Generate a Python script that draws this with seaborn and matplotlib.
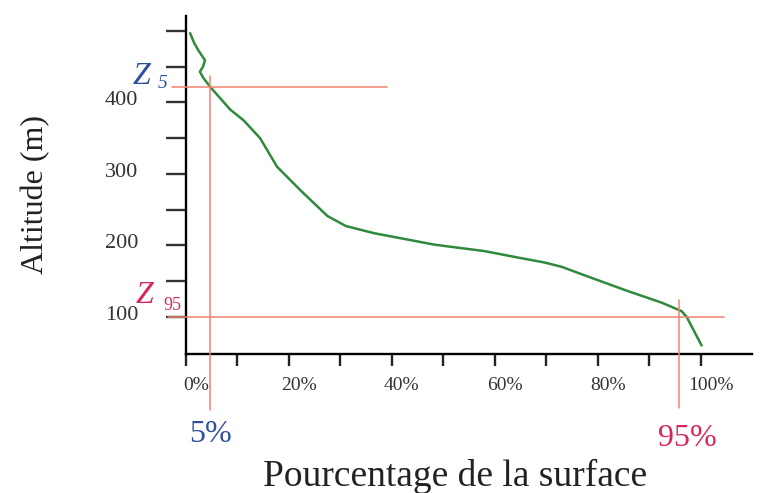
import matplotlib
matplotlib.use("Agg")
import matplotlib.pyplot as plt
from matplotlib.transforms import ScaledTranslation
import seaborn as sns
import pandas as pd

# ---- data ----
surface_pct = [0.8, 1.6, 2.4, 3.7, 3.3, 2.7, 3.4, 4.8, 8.6, 11.2, 14.4, 17.7,
               22.4, 27.5, 31.1, 36.6, 48.3, 58.0, 64.5, 69.7, 73.0, 79.4,
               85.9, 92.4, 96.3, 97.3, 98.6, 100.2]
altitude_m = [497, 483, 473, 459, 450, 443, 434, 421, 390, 375, 350, 310,
              276, 241, 227, 217, 201, 192, 183, 176, 170, 153,
              136, 120, 108, 100, 82, 60]
z5_alt = 422
z95_alt = 100
p5_pos = 4.6
p95_pos = 95.9
p5_label = "5%"
p95_label = "95%"
x_ticks = [0, 10, 20, 30, 40, 50, 60, 70, 80, 90, 100]
x_ticklabels = ["0%", "", "20%", "", "40%", "", "60%", "", "80%", "", "100%"]
y_ticks = [100, 150, 200, 250, 300, 350, 400, 450, 500]
y_ticklabels = ["100", "", "200", "", "300", "", "400", "", ""]

df = pd.DataFrame({"pct": surface_pct, "alt": altitude_m})

sns.set_style("ticks")
plt.rcParams["font.family"] = ["Liberation Serif", "DejaVu Serif"]

W, H = 760, 493
fig = plt.figure(figsize=(W / 100, H / 100), dpi=100)
ax = fig.add_axes([186 / W, 1 - 354 / H, (752 - 186) / W, (354 - 16) / H])

sns.lineplot(data=df, x="pct", y="alt", sort=False, estimator=None,
             color="#2f8a3c", linewidth=1.8, ax=ax)

ax.set_xlim(0, 110)
ax.set_ylim(48, 521)

red = "#f2826f"
blue = "#2f4f9f"
crimson = "#d8265a"
ax.plot([-2.8, 39], [z5_alt, z5_alt], color=red, lw=1.1, clip_on=False, zorder=3)
ax.plot([-3.5, 104.6], [z95_alt, z95_alt], color=red, lw=1.1, clip_on=False, zorder=3)
ax.plot([p5_pos, p5_pos], [437, -30], color=red, lw=1.1, clip_on=False, zorder=3)
ax.plot([p95_pos, p95_pos], [124, -27], color=red, lw=1.1, clip_on=False, zorder=3)

for s in ["top", "right"]:
    ax.spines[s].set_visible(False)
for s in ["left", "bottom"]:
    ax.spines[s].set_color("black")
    ax.spines[s].set_linewidth(1.7)

ax.set_xticks(x_ticks)
ax.set_xticklabels(x_ticklabels)
ax.set_yticks(y_ticks)
ax.set_yticklabels(y_ticklabels)
ax.tick_params(axis="x", bottom=True, direction="out", length=8.6, width=1.7,
               color="#222222", labelsize=14, labelcolor="#333333", pad=8)
ax.tick_params(axis="y", left=True, direction="out", length=14.4, width=1.7,
               color="#333333", labelsize=16, labelcolor="#333333", pad=20)
for lbl in ax.get_xticklabels():
    lbl.set_transform(lbl.get_transform() + ScaledTranslation(0.1, 0, fig.dpi_scale_trans))
for lbl in ax.get_yticklabels():
    lbl.set_transform(lbl.get_transform() + ScaledTranslation(0, 0.04, fig.dpi_scale_trans))

ax.set_xlabel("")
ax.set_ylabel("")

def ftext(x, y, s, **kw):
    fig.text(x / W, 1 - y / H, s, **kw)

ftext(141.5, 77, "Z", color=blue, fontsize=23, style="italic", ha="center", va="center")
ftext(163, 84, "5", color=blue, fontsize=14, style="italic", ha="center", va="center")
ftext(144.5, 295.5, "Z", color=crimson, fontsize=23, style="italic", ha="center", va="center")
ftext(172, 305, "95", color=crimson, fontsize=13, ha="center", va="center")
ftext(211, 435, p5_label, color=blue, fontsize=23, ha="center", va="center")
ftext(687, 438, p95_label, color=crimson, fontsize=23, ha="center", va="center")
ftext(455, 486, "Pourcentage de la surface", color="#222222", fontsize=27,
      ha="center", va="baseline")
ftext(36, 195, "Altitude (m)", color="#222222", fontsize=23, rotation=90,
      ha="center", va="center")

fig.savefig("out.png", dpi=100, facecolor="white")
